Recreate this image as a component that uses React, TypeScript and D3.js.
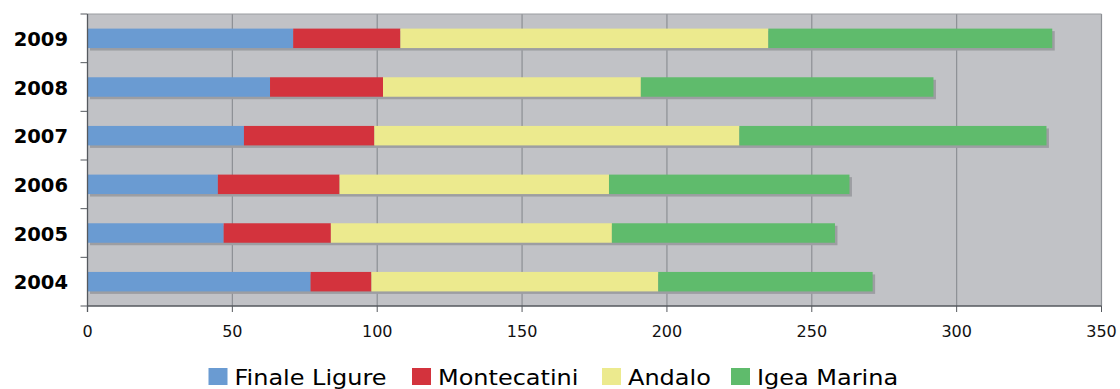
import React from "react";
import * as d3 from "d3";

// Years shown top to bottom
const years = ["2009", "2008", "2007", "2006", "2005", "2004"];

// Per-location values for each year (same order as years)
const finaleLigure = [71, 63, 54, 45, 47, 77];
const montecatini = [37, 39, 45, 42, 37, 21];
const andalo = [127, 89, 126, 93, 97, 99];
const igeaMarina = [98, 101, 106, 83, 77, 74];

const seriesNames = ["Finale Ligure", "Montecatini", "Andalo", "Igea Marina"];
const seriesColors = ["#6a9bd2", "#d3333d", "#ecea8e", "#5fbb6c"];
const xTicks = [0, 50, 100, 150, 200, 250, 300, 350];

const W = 1120;
const H = 389;
const margin = { left: 87.5, right: 18.5, top: 14, bottom: 83 };

export default function App() {
  const innerW = W - margin.left - margin.right;
  const innerH = H - margin.top - margin.bottom;

  const rows = years.map((y, i) => ({
    year: y,
    "Finale Ligure": finaleLigure[i],
    Montecatini: montecatini[i],
    Andalo: andalo[i],
    "Igea Marina": igeaMarina[i],
  }));

  const stacked = d3.stack<any>().keys(seriesNames)(rows);

  const x = d3.scaleLinear().domain([0, 350]).range([0, innerW]);
  const y = d3
    .scaleBand<string>()
    .domain(years)
    .range([0, innerH])
    .paddingInner(0.6)
    .paddingOuter(0.3);
  const band = d3.scaleBand<string>().domain(years).range([0, innerH]);

  const totals = rows.map((r, i) => finaleLigure[i] + montecatini[i] + andalo[i] + igeaMarina[i]);

  // legend layout
  const legendScale = 1.17;
  const legendFont = 20.5;
  const legendItems = [
    { x: 208.5 },
    { x: 412 },
    { x: 602 },
    { x: 731 },
  ];

  return (
    <svg
      width={W}
      height={H}
      style={{ position: "absolute", left: 0, top: 0, background: "#fff" }}
      fontFamily="'DejaVu Sans', Verdana, sans-serif"
    >
      <g transform={`translate(${margin.left},${margin.top})`}>
        {/* plot background */}
        <rect x={0} y={0} width={innerW} height={innerH} fill="#c1c2c6" />
        {/* vertical grid */}
        {xTicks.slice(1).map((t) => (
          <line key={t} x1={x(t)} x2={x(t)} y1={0} y2={innerH} stroke="#8c8f94" strokeWidth={1.2} />
        ))}
        {/* top border */}
        <line x1={0} x2={innerW} y1={0} y2={0} stroke="#9a9ca0" strokeWidth={1} />
        {/* bar shadows */}
        {years.map((yr, i) => (
          <rect
            key={"s" + yr}
            x={2.5}
            y={(y(yr) as number) + 2.5}
            width={x(totals[i])}
            height={y.bandwidth()}
            fill="#9d9ea2"
          />
        ))}
        {/* stacked bars */}
        {stacked.map((s, si) => (
          <g key={s.key} fill={seriesColors[si]}>
            {s.map((d: any, i: number) => (
              <rect
                key={i}
                x={x(d[0])}
                y={y(years[i])}
                width={x(d[1]) - x(d[0])}
                height={y.bandwidth()}
              />
            ))}
          </g>
        ))}
        {/* left axis */}
        <line x1={0} x2={0} y1={0} y2={innerH + 6} stroke="#55595e" strokeWidth={1.3} />
        {band.domain().map((yr) => (
          <line
            key={"t" + yr}
            x1={-7}
            x2={0}
            y1={band(yr) as number}
            y2={band(yr) as number}
            stroke="#55595e"
            strokeWidth={1}
          />
        ))}
        <line x1={-7} x2={0} y1={innerH} y2={innerH} stroke="#55595e" strokeWidth={1} />
        {/* bottom axis */}
        <line x1={0} x2={innerW} y1={innerH} y2={innerH} stroke="#55595e" strokeWidth={1.3} />
        {xTicks.map((t) => (
          <g key={"x" + t} transform={`translate(${x(t)},${innerH})`}>
            <line y1={0} y2={6} stroke="#55595e" strokeWidth={1} />
            <text y={30.5} textAnchor="middle" fontSize={16} fill="#111">
              {t}
            </text>
          </g>
        ))}
        {/* year labels */}
        {years.map((yr) => (
          <text
            key={"l" + yr}
            x={-19.5}
            y={(y(yr) as number) + y.bandwidth() / 2 + 1}
            textAnchor="end"
            dominantBaseline="central"
            fontSize={19.5}
            fontWeight="bold"
            fill="#000"
          >
            {yr}
          </text>
        ))}
      </g>
      {/* legend */}
      {seriesNames.map((name, i) => (
        <g key={name} transform={`translate(${legendItems[i].x},368)`}>
          <rect x={0} y={0} width={19} height={17} fill={seriesColors[i]} />
          <text
            transform={`translate(26,17) scale(${legendScale},1)`}
            fontSize={legendFont}
            fill="#000"
          >
            {name}
          </text>
        </g>
      ))}
    </svg>
  );
}
